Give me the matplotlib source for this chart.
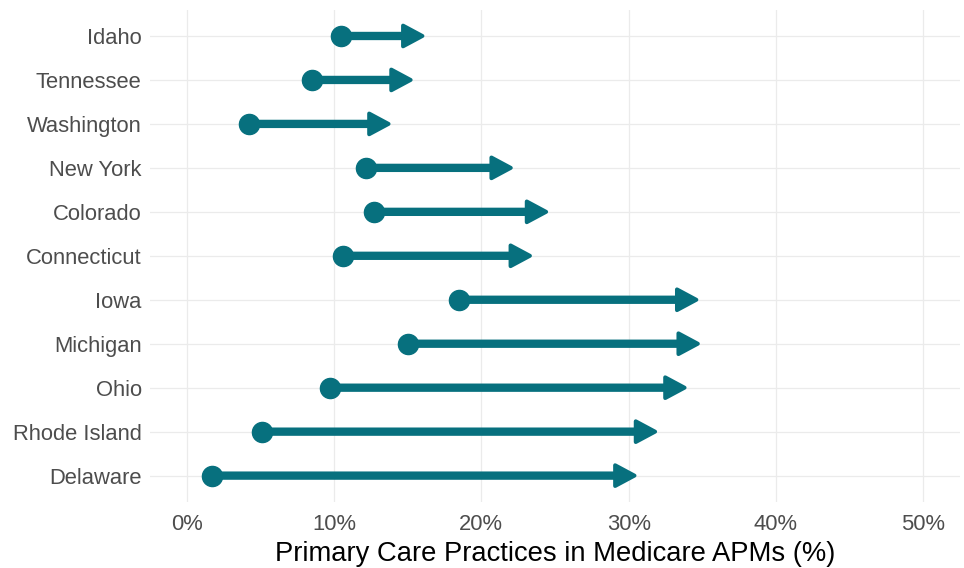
import matplotlib
matplotlib.use("Agg")
import matplotlib.pyplot as plt
from matplotlib.ticker import FuncFormatter

states = ["Idaho", "Tennessee", "Washington", "New York", "Colorado", "Connecticut",
          "Iowa", "Michigan", "Ohio", "Rhode Island", "Delaware"]
start_pct = [10.5, 8.5, 4.2, 12.2, 12.7, 10.6, 18.5, 15.0, 9.7, 5.1, 1.7]
end_pct = [16.0, 15.2, 13.7, 22.0, 24.4, 23.3, 34.6, 34.7, 33.8, 31.8, 30.4]
x_ticks = [0, 10, 20, 30, 40, 50]

color = "#07707E"
plt.rcParams['font.family'] = ['Liberation Sans', 'DejaVu Sans']

fig = plt.figure(figsize=(9.64, 5.68), dpi=100)
ax = fig.add_axes([150/964, 1 - 502/568, 810/964, (502 - 9.6)/568])

n = len(states)
ys = list(range(n - 1, -1, -1))

for y, s, e in zip(ys, start_pct, end_pct):
    ax.annotate("", xy=(e, y), xytext=(s, y),
                arrowprops=dict(width=3.2, headwidth=15, headlength=14, shrink=0,
                                facecolor=color, edgecolor=color, lw=2.8,
                                joinstyle='round'),
                zorder=3)
    ax.plot([s], [y], 'o', color=color, markersize=14.5, zorder=4)

ax.set_xlim(-2.5, 52.5)
ax.set_ylim(-0.6, n - 1 + 0.6)
ax.set_yticks(ys)
ax.set_yticklabels(states)
ax.set_xticks(x_ticks)
ax.xaxis.set_major_formatter(FuncFormatter(lambda v, p: f"{int(v)}%"))
ax.grid(True, color="#EBEBEB", lw=0.9)
ax.set_axisbelow(True)
for sp in ax.spines.values():
    sp.set_visible(False)
ax.tick_params(length=0, labelsize=15.8, labelcolor="#4D4D4D")
ax.tick_params(axis='y', pad=6)
ax.tick_params(axis='x', pad=9)
ax.set_xlabel("Primary Care Practices in Medicare APMs (%)", fontsize=19.7, color="black", labelpad=4)

fig.savefig("out.png", dpi=100)
